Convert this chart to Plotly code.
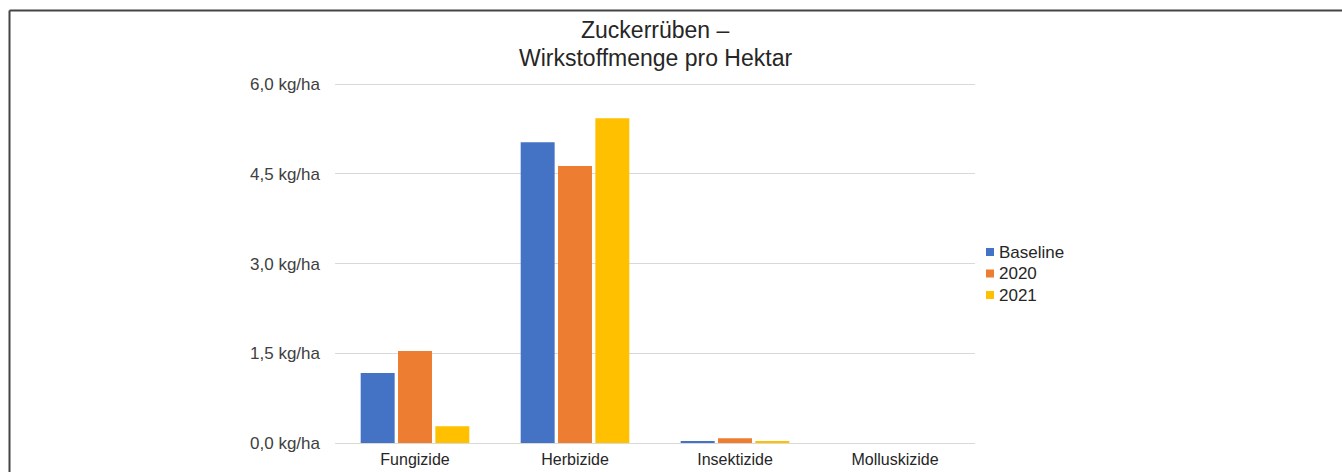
import plotly.graph_objects as go

categories = ["Fungizide", "Herbizide", "Insektizide", "Molluskizide"]
series_names = ["Baseline", "2020", "2021"]
baseline = [1.17, 5.03, 0.03, 0.0]
y2020 = [1.54, 4.63, 0.08, 0.0]
y2021 = [0.28, 5.43, 0.02, 0.0]
tick_vals = [0.0, 1.5, 3.0, 4.5, 6.0]
tick_text = ["0,0 kg/ha", "1,5 kg/ha", "3,0 kg/ha", "4,5 kg/ha", "6,0 kg/ha"]
title_lines = ["Zuckerrüben –", "Wirkstoffmenge pro Hektar"]
colors = ["#4472C4", "#ED7D31", "#FFC000"]

fig = go.Figure()
for name, vals, c in zip(series_names, [baseline, y2020, y2021], colors):
    fig.add_trace(go.Bar(x=categories, y=vals, name=name, marker=dict(color=c, line=dict(width=0))))

W, H = 1342, 472
ml, mr, mt, mb = 335, 1342 - 975, 83, 472 - 443
pw, ph = W - ml - mr, H - mt - mb

def px(xp):
    return (xp - ml) / pw

def py(yp):
    return (H - mb - yp) / ph

annotations = [
    dict(text=title_lines[0], xref="paper", yref="paper", x=0.5, y=py(30), xanchor="center",
         yanchor="middle", showarrow=False, font=dict(size=23, color="#262626")),
    dict(text=title_lines[1], xref="paper", yref="paper", x=0.5, y=py(58), xanchor="center",
         yanchor="middle", showarrow=False, font=dict(size=23, color="#262626")),
]
shapes = [
    dict(type="line", xref="paper", yref="paper", x0=px(9.5), x1=px(9.5), y0=py(480), y1=py(10.5),
         line=dict(color="#444444", width=2)),
    dict(type="line", xref="paper", yref="paper", x0=px(9.5), x1=px(1350), y0=py(10.5), y1=py(10.5),
         line=dict(color="#444444", width=2)),
]
# manual legend
legend_y = [252, 273.5, 295]
for name, c, ly in zip(series_names, colors, legend_y):
    shapes.append(dict(type="rect", xref="paper", yref="paper", x0=px(986), x1=px(994),
                       y0=py(ly + 4), y1=py(ly - 4), fillcolor=c, line=dict(width=0)))
    annotations.append(dict(text=name, xref="paper", yref="paper", x=px(997), y=py(ly),
                            xanchor="left", yanchor="middle", showarrow=False,
                            font=dict(size=17, color="#262626")))

fig.update_layout(
    width=W, height=H,
    margin=dict(l=ml, r=mr, t=mt, b=mb, pad=0, autoexpand=False),
    paper_bgcolor="white", plot_bgcolor="white",
    font=dict(family="Liberation Sans, Arial, sans-serif", size=17, color="#404040"),
    barmode="group", bargap=0.3, bargroupgap=0.09,
    showlegend=False,
    xaxis=dict(showgrid=False, zeroline=False, showline=False, ticks="", ticklabelstandoff=5,
               automargin=False, tickfont=dict(size=16, color="#262626")),
    yaxis=dict(range=[0, 6.02], tickvals=tick_vals, ticktext=tick_text, showgrid=True,
               gridcolor="#D9D9D9", gridwidth=1, zeroline=True, zerolinecolor="#D9D9D9",
               zerolinewidth=1, showline=False, ticks="", ticklabelstandoff=14,
               automargin=False, tickfont=dict(size=17, color="#404040")),
    annotations=annotations,
    shapes=shapes,
)

fig.write_html("out.html")
